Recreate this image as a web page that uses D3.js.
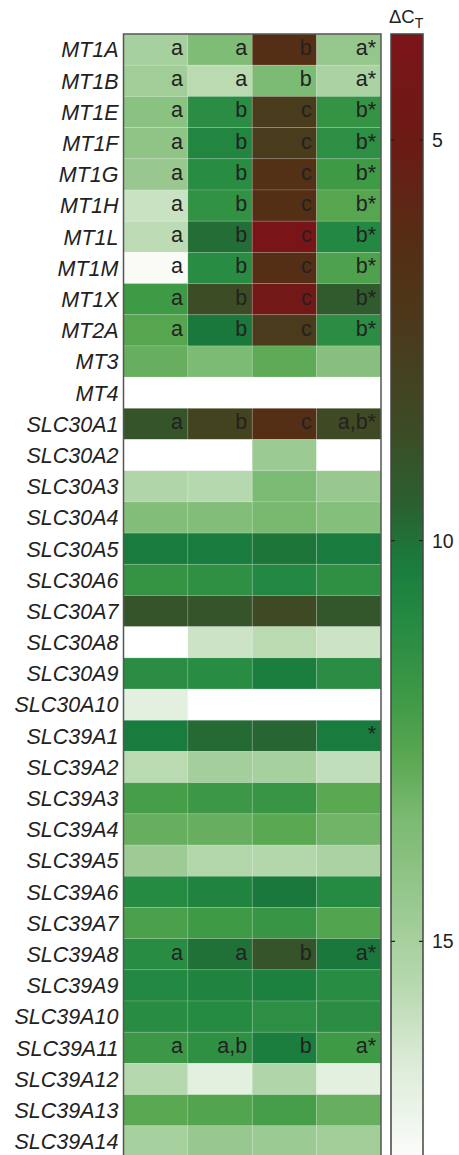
<!DOCTYPE html>
<html>
<head>
<meta charset="utf-8">
<script src="https://cdn.jsdelivr.net/npm/d3@7/dist/d3.min.js"></script>
<style>
  html, body { margin: 0; padding: 0; background: #fff; }
  svg { display: block; }
  text { font-family: "Liberation Sans", Arial, Helvetica, sans-serif; fill: #222; }
</style>
</head>
<body>
<div id="chart"></div>
<script>
// ---------- DATA ----------
const genes = ["MT1A","MT1B","MT1E","MT1F","MT1G","MT1H","MT1L","MT1M","MT1X","MT2A","MT3","MT4",
  "SLC30A1","SLC30A2","SLC30A3","SLC30A4","SLC30A5","SLC30A6","SLC30A7","SLC30A8","SLC30A9","SLC30A10",
  "SLC39A1","SLC39A2","SLC39A3","SLC39A4","SLC39A5","SLC39A6","SLC39A7","SLC39A8","SLC39A9","SLC39A10",
  "SLC39A11","SLC39A12","SLC39A13","SLC39A14"];
const groups = ["G1","G2","G3","G4"];

// ΔCT values per column (null = not detected)
const valuesG1 = [15.0,14.8,14.0,14.2,14.5,16.0,15.7,17.6,12.0,12.6,13.0,null,
  9.0,null,15.3,13.7,10.3,11.6,9.0,null,11.2,16.8,
  10.3,15.6,12.2,13.0,14.7,11.0,12.3,11.1,10.9,11.1,
  11.9,15.5,12.7,15.0];
const valuesG2 = [13.6,15.6,11.2,10.8,11.1,11.5,9.9,11.1,8.6,10.2,13.5,null,
  8.0,null,15.5,13.7,10.3,11.4,9.0,16.1,11.1,null,
  9.8,14.9,11.9,13.0,15.4,10.7,12.0,10.0,10.7,11.0,
  11.4,16.8,12.5,14.5];
const valuesG3 = [6.4,13.5,7.6,7.6,6.6,6.5,4.0,6.4,4.5,7.5,12.8,null,
  6.4,14.6,13.5,13.4,10.1,10.9,8.5,15.6,10.4,null,
  9.7,15.0,11.7,12.7,15.4,10.2,11.7,9.0,10.5,11.3,
  10.4,15.3,12.2,14.6];
const valuesG4 = [14.4,15.1,11.6,11.3,12.0,12.6,10.9,12.4,9.3,11.2,13.9,null,
  8.4,null,14.5,13.8,10.3,11.4,9.1,16.1,11.2,null,
  10.3,15.8,12.7,13.2,15.1,11.0,12.5,10.2,11.1,11.2,
  12.0,16.8,13.0,14.8];

// significance letters per column
const lettersG1 = ["a","a","a","a","a","a","a","a","a","a","","","a","","","","","","","","","","","","","","","","","a","","","a","","",""];
const lettersG2 = ["a","a","b","b","b","b","b","b","b","b","","","b","","","","","","","","","","","","","","","","","a","","","a,b","","",""];
const lettersG3 = ["b","b","c","c","c","c","c","c","c","c","","","c","","","","","","","","","","","","","","","","","b","","","b","","",""];
const lettersG4 = ["a*","a*","b*","b*","b*","b*","b*","b*","b*","b*","","","a,b*","","","","","","","","","","*","","","","","","","a*","","","a*","","",""];

const colorbarTicks = [5, 10, 15];
const colorbarDomain = [3.68, 17.69];

// colormap stops (value -> colour)
const cmapValues = [3.68, 5.0, 6.3, 7.5, 8.7, 9.5, 10.3, 11.0, 12.0, 12.7, 13.5, 14.5, 15.5, 16.5, 17.69];
const cmapColors = ["#7d1419","#6c1a14","#552e14","#4a3b1c","#3b4d26","#2c5f2f","#197c3e","#258a42",
  "#3f9a46","#5aa852","#7cbb73","#98c88f","#b6d8ae","#dbebd6","#fcfcfa"];

// ---------- CHART ----------
const W = 459, H = 1155;
const hm = { left: 123.5, right: 381, top: 34, bottom: 1157 };
const cb = { left: 391, right: 423, top: 34, bottom: 1157 };

const columns = [valuesG1, valuesG2, valuesG3, valuesG4];
const letterCols = [lettersG1, lettersG2, lettersG3, lettersG4];

const svg = d3.select("#chart").append("svg").attr("width", W).attr("height", H);

const x = d3.scaleBand().domain(groups).range([hm.left, hm.right]).padding(0);
const y = d3.scaleBand().domain(genes).range([hm.top, hm.bottom]).padding(0);
const color = d3.scaleLinear().domain(cmapValues).range(cmapColors).interpolate(d3.interpolateRgb).clamp(true);

const cells = [];
genes.forEach((g, i) => groups.forEach((c, j) => {
  cells.push({ gene: g, group: c, value: columns[j][i], label: letterCols[j][i] });
}));

svg.append("g").selectAll("rect").data(cells).join("rect")
  .attr("x", d => x(d.group))
  .attr("y", d => y(d.gene))
  .attr("width", x.bandwidth())
  .attr("height", y.bandwidth())
  .attr("fill", d => d.value == null ? "#ffffff" : color(d.value))
  .attr("stroke", "rgba(255,255,255,0.18)")
  .attr("stroke-width", 0.8);

// significance letters
svg.append("g").selectAll("text").data(cells.filter(d => d.label)).join("text")
  .attr("x", d => x(d.group) + x.bandwidth() - 5)
  .attr("y", d => y(d.gene) + 21)
  .attr("text-anchor", "end")
  .style("font-size", "21.5px")
  .style("fill", "#222")
  .text(d => d.label);

// heatmap frame
svg.append("rect")
  .attr("x", hm.left).attr("y", hm.top)
  .attr("width", hm.right - hm.left).attr("height", hm.bottom - hm.top)
  .attr("fill", "none").attr("stroke", "#555").attr("stroke-width", 1.5);

// row labels
svg.append("g").selectAll("text").data(genes).join("text")
  .attr("x", hm.left - 5)
  .attr("y", d => y(d) + y.bandwidth() / 2 + 7.8)
  .attr("text-anchor", "end")
  .style("font-size", "21.5px")
  .style("font-style", "italic")
  .text(d => d);

// ---------- COLORBAR ----------
const cy = d3.scaleLinear().domain(colorbarDomain).range([cb.top, cb.bottom]);
const defs = svg.append("defs");
const grad = defs.append("linearGradient").attr("id", "cbgrad")
  .attr("x1", 0).attr("x2", 0).attr("y1", 0).attr("y2", 1);
d3.range(0, 1.0001, 0.02).forEach(t => {
  const v = colorbarDomain[0] + t * (colorbarDomain[1] - colorbarDomain[0]);
  grad.append("stop").attr("offset", t).attr("stop-color", color(v));
});
svg.append("rect")
  .attr("x", cb.left).attr("y", cb.top)
  .attr("width", cb.right - cb.left).attr("height", cb.bottom - cb.top)
  .attr("fill", "url(#cbgrad)")
  .attr("stroke", "#444").attr("stroke-width", 1.5);

const tg = svg.append("g").selectAll("g").data(colorbarTicks).join("g")
  .attr("transform", d => `translate(0,${cy(d)})`);
tg.append("line").attr("x1", cb.left).attr("x2", cb.left + 4).attr("stroke", "#222").attr("stroke-width", 1.2);
tg.append("line").attr("x1", cb.right - 4).attr("x2", cb.right).attr("stroke", "#222").attr("stroke-width", 1.2);
tg.append("text")
  .attr("x", cb.right + 9).attr("y", 7)
  .style("font-size", "19.5px")
  .text(d => d);

// colorbar title ΔC_T
const title = svg.append("text").attr("x", 389).attr("y", 23).style("font-size", "18.5px");
title.append("tspan").text("\u0394C");
title.append("tspan").attr("dy", 5).style("font-size", "14px").text("T");
</script>
</body>
</html>
